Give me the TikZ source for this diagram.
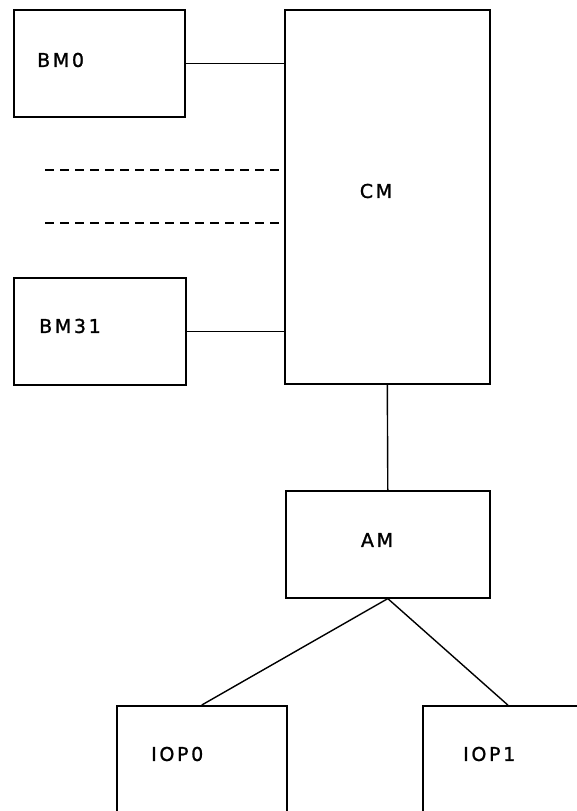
\documentclass[tikz,border=0pt]{standalone}
\usepackage{fontspec}
\newfontfamily\plotfont[LetterSpace=14,FakeBold=1.2]{DejaVu Sans}
\usetikzlibrary{calc}
\tikzset{
  blk/.style={draw, line width=1.6pt, rectangle, inner sep=0pt, anchor=north west},
  lbl/.style={font=\plotfont\fontsize{19}{19}\selectfont, inner sep=0pt},
  wire/.style={line width=1.4pt},
  dwire/.style={line width=1.4pt, dash pattern=on 9pt off 6pt}
}
\begin{document}
\begin{tikzpicture}[x=1pt,y=-1pt]
\useasboundingbox (0,0) rectangle (577,811);
\clip (0,0) rectangle (577,811);
\node[blk, minimum width=171pt, minimum height=107pt] (bm0) at (13,9) {};
\node[blk, minimum width=205pt, minimum height=374pt] (cm) at (284,9) {};
\node[blk, minimum width=172pt, minimum height=107pt] (bm31) at (13,277) {};
\node[blk, minimum width=204pt, minimum height=107pt] (am) at (285,490) {};
\node[blk, minimum width=170pt, minimum height=130pt] (iop0) at (116,705) {};
\node[blk, minimum width=170pt, minimum height=130pt] (iop1) at (422,705) {};

\node[lbl, anchor=west] (tbm0) at (37,60) {BM0};
\node[lbl] (tcm) at (376,191) {CM};
\node[lbl, anchor=west] (tbm31) at (39,326) {BM31};
\node[lbl] (tam) at (377,540) {AM};
\node[lbl, anchor=west] (tiop0) at (151,754) {IOP0};
\node[lbl, anchor=west] (tiop1) at (463,754) {IOP1};

\coordinate (d1) at (45,170);
\coordinate (d2) at (45,223);
\draw[wire] (bm0.east) -- (bm0.east -| cm.west);
\draw[wire] (bm31.east) -- (bm31.east -| cm.west);
\draw[dwire] (d1) -- (d1 -| cm.west);
\draw[dwire] (d2) -- (d2 -| cm.west);
\draw[wire] (cm.south) -- (am.north);
\draw[wire] (am.south) -- (iop0.north);
\draw[wire] (am.south) -- (iop1.north);
\end{tikzpicture}
\end{document}
